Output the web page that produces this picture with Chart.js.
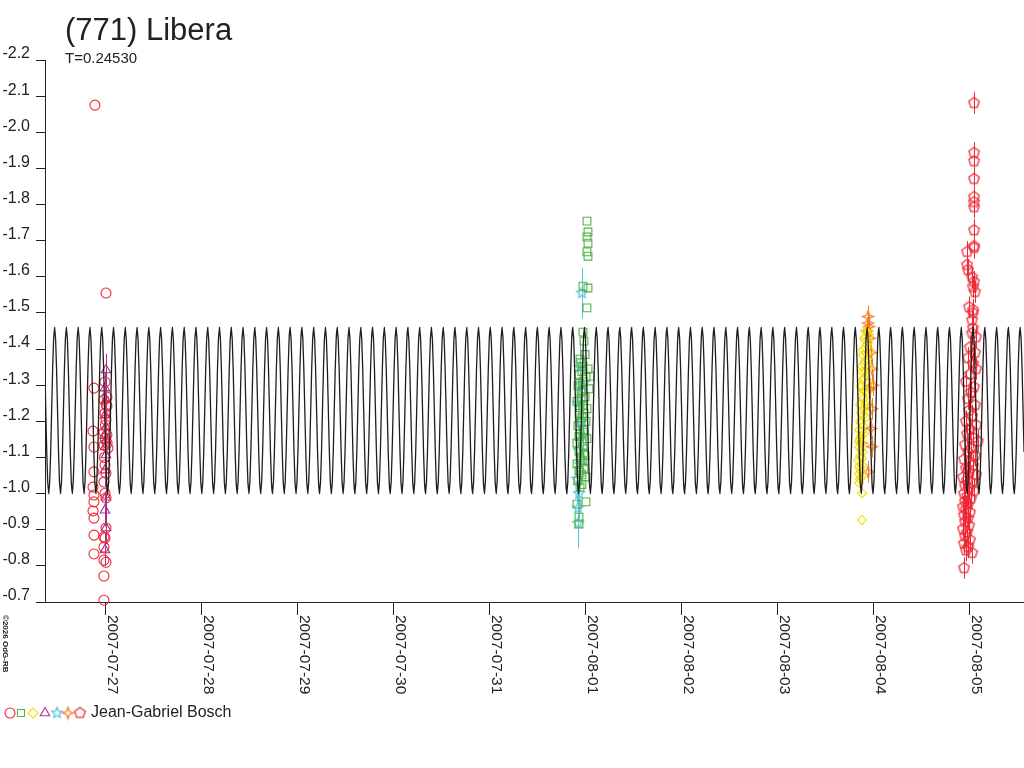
<!DOCTYPE html>
<html>
<head>
<meta charset="utf-8">
<script src="https://cdn.jsdelivr.net/npm/chart.js@4/dist/chart.umd.min.js"></script>
<style>
  html, body { margin: 0; padding: 0; background: #fff; }
  canvas { display: block; }
</style>
</head>
<body>
<canvas id="lc" width="1024" height="768"></canvas>
<script>
// (771) Libera - lightcurve, time in days after 2007-07-27 0h UT, magnitudes reduced
const title = '(771) Libera';
const periodLabel = 'T=0.24530';
const observer = 'Jean-Gabriel Bosch';
const copyright = '\u00a92026 OdG-RB';

const dateLabels = ['2007-07-27', '2007-07-28', '2007-07-29', '2007-07-30', '2007-07-31',
                    '2007-08-01', '2007-08-02', '2007-08-03', '2007-08-04', '2007-08-05'];
const dateDays = [0, 1, 2, 3, 4, 5, 6, 7, 8, 9];
const xRange = [-0.635, 9.5625];
const yRange = [-2.2, -0.7];

// fitted curve: one period, repeated with T
const T = 0.24530;
const curveEpoch = 1.0594;
const curveProfile = [-1.460, -1.429, -1.345, -1.230, -1.115, -1.031, -1.000, -1.031, -1.115, -1.230, -1.345, -1.429,
                      -1.460, -1.429, -1.345, -1.230, -1.115, -1.031, -1.000, -1.031, -1.115, -1.230, -1.345, -1.429];

// [day, mag]
const circles = [
  [-0.115, -2.075], [-0.125, -1.292], [-0.135, -1.173], [-0.125, -1.129], [-0.125, -1.060], [-0.135, -1.018],
  [-0.125, -0.996], [-0.125, -0.977], [-0.135, -0.952], [-0.125, -0.932], [-0.125, -0.885], [-0.125, -0.833],
  [0, -1.555], [-0.010, -1.309], [0.010, -1.267], [-0.021, -1.259], [0.010, -1.242], [-0.010, -1.223],
  [0, -1.204], [-0.021, -1.170], [0.010, -1.162], [-0.010, -1.154], [-0.021, -1.134], [0.021, -1.126],
  [-0.010, -1.079], [0, -1.057], [-0.021, -1.032], [-0.010, -1.001], [0, -0.988], [0, -0.905],
  [-0.021, -0.880], [-0.010, -0.877], [-0.021, -0.852], [-0.021, -0.816], [0, -0.810], [-0.021, -0.772],
  [-0.021, -0.705], [0.005, -1.245], [-0.005, -1.190], [0.012, -1.140], [-0.015, -1.100]
];
const triangles = [
  [0, -1.342], [-0.010, -1.292], [0, -1.259], [-0.010, -1.217], [0, -1.184], [-0.010, -1.160],
  [0, -1.148], [-0.010, -1.129], [0, -1.107], [-0.010, -1.065], [0, -0.990], [-0.010, -0.954],
  [0, -0.905], [-0.010, -0.844]
];
const squares = [
  [5.010, -1.754], [5.021, -1.724], [5.010, -1.710], [5.021, -1.693], [5.010, -1.669], [5.021, -1.657],
  [4.969, -1.574], [5.021, -1.569], [5.010, -1.514], [4.969, -1.447], [4.979, -1.422],
  [4.990, -1.385], [4.948, -1.362], [5.021, -1.345], [4.927, -1.330], [5.042, -1.325], [5.0, -1.322],
  [4.969, -1.310], [4.917, -1.298], [5.031, -1.290], [4.948, -1.280], [4.990, -1.268], [4.906, -1.255],
  [4.969, -1.245], [5.010, -1.235], [4.927, -1.222], [4.958, -1.210], [5.0, -1.200], [4.917, -1.188],
  [4.979, -1.176], [4.938, -1.165], [5.010, -1.152], [4.906, -1.140], [4.969, -1.130], [4.927, -1.118],
  [4.990, -1.105], [4.948, -1.093], [4.906, -1.082], [4.979, -1.070], [4.938, -1.058], [5.0, -1.046],
  [4.917, -1.035], [4.958, -1.025], [4.938, -1.018], [4.906, -0.971], [5.0, -0.977], [4.927, -0.935],
  [4.927, -0.916], [4.938, -1.372], [4.969, -1.352], [4.958, -1.338], [4.938, -1.305], [4.969, -1.285],
  [4.948, -1.262], [4.938, -1.238], [4.979, -1.222], [4.948, -1.196], [4.969, -1.170], [4.927, -1.158],
  [4.958, -1.145], [4.979, -1.112], [4.938, -1.100], [4.969, -1.088], [4.927, -1.064], [4.958, -1.052]
];
const stars = [
  [4.958, -1.555], [4.938, -1.350], [4.958, -1.300], [4.917, -1.250], [4.948, -1.200], [4.969, -1.160],
  [4.927, -1.120], [4.938, -1.080], [4.906, -1.040], [4.927, -1.000], [4.917, -0.960], [4.917, -0.918]
];
const diamonds = [
  [7.917, -1.450], [7.948, -1.440], [7.896, -1.428], [7.938, -1.418], [7.906, -1.405], [7.958, -1.395],
  [7.885, -1.383], [7.927, -1.372], [7.896, -1.360], [7.948, -1.350], [7.875, -1.338], [7.917, -1.326],
  [7.885, -1.315], [7.938, -1.305], [7.865, -1.293], [7.906, -1.282], [7.875, -1.270], [7.927, -1.258],
  [7.854, -1.246], [7.896, -1.235], [7.865, -1.224], [7.917, -1.212], [7.854, -1.200], [7.885, -1.188],
  [7.844, -1.176], [7.896, -1.165], [7.854, -1.152], [7.875, -1.140], [7.844, -1.128], [7.885, -1.116],
  [7.854, -1.104], [7.833, -1.092], [7.875, -1.080], [7.854, -1.068], [7.844, -1.055], [7.865, -1.045],
  [7.875, -1.001], [7.875, -0.927], [7.927, -1.445], [7.906, -1.432], [7.927, -1.412], [7.885, -1.398],
  [7.917, -1.388], [7.906, -1.366], [7.875, -1.352], [7.906, -1.340], [7.896, -1.320], [7.865, -1.300],
  [7.896, -1.288], [7.885, -1.262], [7.906, -1.248], [7.875, -1.232], [7.885, -1.215], [7.865, -1.195],
  [7.875, -1.172], [7.865, -1.160], [7.844, -1.146], [7.865, -1.122], [7.875, -1.098], [7.844, -1.075],
  [7.865, -1.060], [7.854, -1.040], [7.844, -1.030]
];
const stars4 = [
  [7.938, -1.490], [7.938, -1.472], [7.948, -1.462], [7.927, -1.450], [7.958, -1.430], [7.969, -1.390],
  [7.979, -1.345], [7.958, -1.290], [7.979, -1.235], [7.969, -1.180], [7.979, -1.130], [7.938, -1.060],
  [7.875, -1.140], [7.990, -1.300]
];
const pentagons = [
  [9.042, -2.081], [9.042, -1.943], [9.042, -1.920], [9.042, -1.871], [9.042, -1.821], [9.042, -1.807],
  [9.042, -1.793], [9.042, -1.729], [9.042, -1.685], [9.042, -1.680], [8.969, -1.669], [8.969, -1.633],
  [8.979, -1.619], [9.021, -1.599], [9.042, -1.586], [9.031, -1.572], [9.052, -1.558], [8.990, -1.516],
  [9.031, -1.508], [9.031, -1.500], [9.021, -1.480], [9.031, -1.458], [9.021, -1.444], [9.063, -1.433],
  [9.0, -1.405], [9.052, -1.390], [8.979, -1.375], [9.031, -1.360], [9.063, -1.345], [9.0, -1.330],
  [8.958, -1.310], [9.042, -1.295], [9.010, -1.280], [8.979, -1.262], [9.052, -1.245], [8.990, -1.230],
  [9.021, -1.215], [8.958, -1.200], [9.063, -1.190], [9.0, -1.178], [8.969, -1.165], [9.031, -1.155],
  [9.083, -1.145], [8.948, -1.135], [9.010, -1.125], [8.979, -1.115], [9.052, -1.105], [8.938, -1.095],
  [9.0, -1.088], [9.031, -1.078], [8.958, -1.070], [8.990, -1.060], [9.063, -1.052], [8.927, -1.045],
  [8.969, -1.037], [9.021, -1.030], [8.948, -1.022], [8.990, -1.015], [9.042, -1.008], [8.938, -1.000],
  [8.969, -0.993], [9.010, -0.986], [8.948, -0.978], [8.979, -0.970], [8.927, -0.963], [8.958, -0.955],
  [9.0, -0.948], [8.938, -0.940], [8.979, -0.932], [8.948, -0.922], [8.990, -0.912], [8.927, -0.902],
  [8.969, -0.893], [8.948, -0.882], [9.0, -0.872], [8.938, -0.862], [8.979, -0.852], [8.958, -0.843],
  [9.021, -0.836], [8.938, -0.794]
];
const offPlot = [[3.010, -0.685]];

// error bars (mag) per series
const errTriangles = 0.045;
const errStars = 0.07;
const errStars4 = 0.03;
const errPentagons = 0.03;

const colRed = '#ee2a36';
const colGreen = '#52b443';
const colYellow = '#f5e100';
const colPurple = '#a4308e';
const colCyan = '#55c4df';
const colOrange = '#f27a22';
const colCurve = '#1e1e1e';

function polyMarker(kind, color, r) {
  const s = Math.ceil(r * 2 + 4);
  const c = document.createElement('canvas');
  c.width = s; c.height = s;
  const g = c.getContext('2d');
  const cx = s / 2, cy = s / 2;
  const n = kind === 'pent' ? 5 : (kind === 'star' ? 10 : 8);
  g.beginPath();
  for (let i = 0; i < n; i++) {
    const a = -Math.PI / 2 + i * 2 * Math.PI / n;
    let rr = r;
    if (kind === 'star' && i % 2) rr = r * 0.45;
    if (kind === 'star4' && i % 2) rr = r * 0.38;
    const px = cx + rr * Math.cos(a), py = cy + rr * Math.sin(a);
    if (i === 0) g.moveTo(px, py); else g.lineTo(px, py);
  }
  g.closePath();
  g.strokeStyle = color;
  g.lineWidth = 1.3;
  g.stroke();
  return c;
}

const starImg = polyMarker('star', colCyan, 5.5);
const star4Img = polyMarker('star4', colOrange, 5.5);
const pentImg = polyMarker('pent', colRed, 5.5);

function toXY(arr) { return arr.map(p => ({ x: p[0], y: p[1] })); }

function buildCurve() {
  const step = T / curveProfile.length;
  const pts = [];
  let n = Math.floor((xRange[0] - curveEpoch) / step);
  for (; ; n++) {
    const t = curveEpoch + n * step;
    if (t > xRange[1] + step) break;
    const k = ((n % curveProfile.length) + curveProfile.length) % curveProfile.length;
    pts.push({ x: t, y: curveProfile[k] });
  }
  return pts;
}

function markerSet(label, data, style, color, radius, err) {
  return {
    label: label,
    data: toXY(data),
    pointStyle: style,
    pointRadius: radius,
    pointHoverRadius: radius,
    borderColor: color,
    backgroundColor: 'rgba(0,0,0,0)',
    pointBorderWidth: 1.1,
    showLine: false,
    clip: false,
    err: err || 0
  };
}

const errorBars = {
  id: 'errorBars',
  beforeDatasetsDraw(chart) {
    const ctx = chart.ctx;
    const xs = chart.scales.x, ys = chart.scales.y;
    chart.data.datasets.forEach(ds => {
      if (!ds.err) return;
      ctx.save();
      ctx.strokeStyle = ds.borderColor;
      ctx.lineWidth = 1;
      ds.data.forEach(p => {
        const px = Math.round(xs.getPixelForValue(p.x)) + 0.5;
        ctx.beginPath();
        ctx.moveTo(px, ys.getPixelForValue(p.y - ds.err));
        ctx.lineTo(px, ys.getPixelForValue(p.y + ds.err));
        ctx.stroke();
      });
      ctx.restore();
    });
  }
};

const decorations = {
  id: 'decorations',
  afterDraw(chart) {
    const ctx = chart.ctx;
    const xs = chart.scales.x;
    ctx.save();
    ctx.fillStyle = '#222';
    // title
    ctx.textAlign = 'left';
    ctx.textBaseline = 'alphabetic';
    ctx.font = '31px "Liberation Sans", Arial, sans-serif';
    ctx.fillText(title, 65, 40);
    ctx.font = '15px "Liberation Sans", Arial, sans-serif';
    ctx.fillText(periodLabel, 65, 63);

    // date labels, reading downwards
    ctx.font = '15.5px "Liberation Sans", Arial, sans-serif';
    ctx.textBaseline = 'middle';
    dateDays.forEach((d, i) => {
      const px = xs.getPixelForValue(d);
      ctx.save();
      ctx.translate(px + 6, 615);
      ctx.rotate(Math.PI / 2);
      ctx.fillText(dateLabels[i], 0, 0);
      ctx.restore();
    });

    // copyright
    ctx.save();
    ctx.font = 'bold 8px "Liberation Sans", Arial, sans-serif';
    ctx.translate(5, 615);
    ctx.rotate(Math.PI / 2);
    ctx.fillText(copyright, 0, 0);
    ctx.restore();

    // observer legend
    const ly = 713;
    const draw = (style, color, r, x) => {
      if (typeof style === 'string') {
        ctx.strokeStyle = color;
        ctx.fillStyle = 'rgba(0,0,0,0)';
        ctx.lineWidth = 1.1;
        Chart.helpers.drawPoint(ctx, { pointStyle: style, radius: r, borderWidth: 1.1 }, x, ly);
      } else {
        ctx.drawImage(style, x - style.width / 2, ly - style.height / 2);
      }
    };
    draw('circle', colRed, 5, 10);
    draw('rect', colGreen, 5, 21);
    draw('rectRot', colYellow, 5, 33);
    draw('triangle', colPurple, 5.5, 45);
    draw(starImg, colCyan, 5, 57);
    draw(star4Img, colOrange, 5, 68);
    draw(pentImg, colRed, 5, 80);
    ctx.fillStyle = '#222';
    ctx.font = '16px "Liberation Sans", Arial, sans-serif';
    ctx.textBaseline = 'middle';
    ctx.fillText(observer, 91, ly);
    ctx.restore();
  }
};

const curveSet = {
  label: 'fit',
  data: buildCurve(),
  showLine: true,
  borderColor: colCurve,
  borderWidth: 1.3,
  pointRadius: 0,
  pointHoverRadius: 0,
  tension: 0.001,
  fill: false
};

new Chart(document.getElementById('lc'), {
  type: 'scatter',
  data: {
    datasets: [
      curveSet,
      markerSet('circles', circles, 'circle', colRed, 5),
      markerSet('triangles', triangles, 'triangle', colPurple, 5.5, errTriangles),
      markerSet('squares', squares, 'rect', colGreen, 5.5),
      markerSet('stars', stars, starImg, colCyan, 5, errStars),
      markerSet('diamonds', diamonds, 'rectRot', colYellow, 4.5),
      markerSet('stars4', stars4, star4Img, colOrange, 5, errStars4),
      markerSet('pentagons', pentagons, pentImg, colRed, 5, errPentagons),
      markerSet('other', offPlot, 'circle', '#555', 3)
    ]
  },
  options: {
    responsive: false,
    animation: false,
    devicePixelRatio: 1,
    layout: { autoPadding: false, padding: { top: 60, right: 0, left: 0, bottom: 0 } },
    plugins: { legend: { display: false }, tooltip: { enabled: false }, title: { display: false } },
    scales: {
      x: {
        type: 'linear',
        min: xRange[0],
        max: xRange[1],
        afterBuildTicks: s => { s.ticks = dateDays.map(v => ({ value: v })); },
        afterFit: s => { s.height = 166; },
        ticks: { display: false },
        grid: { drawOnChartArea: false, drawTicks: true, tickLength: 13, color: '#222', lineWidth: 1 },
        border: { display: true, color: '#222', width: 1 }
      },
      y: {
        type: 'linear',
        reverse: true,
        min: yRange[0],
        max: yRange[1],
        afterFit: s => { s.width = 45; },
        ticks: {
          stepSize: 0.1,
          color: '#222',
          padding: 6,
          labelOffset: -6,
          font: { family: '"Liberation Sans", Arial, sans-serif', size: 16 },
          callback: v => Number(v).toFixed(1)
        },
        grid: { drawOnChartArea: false, drawTicks: true, tickLength: 9, color: '#222', lineWidth: 1 },
        border: { display: true, color: '#222', width: 1 }
      }
    }
  },
  plugins: [errorBars, decorations]
});
</script>
</body>
</html>
